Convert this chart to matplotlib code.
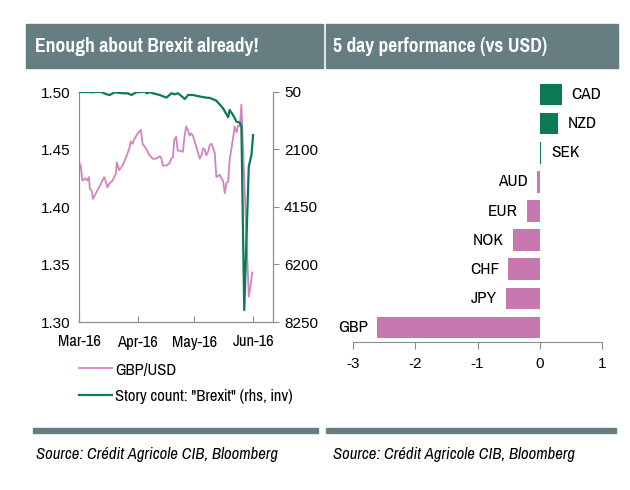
import matplotlib
matplotlib.use("Agg")
import matplotlib.pyplot as plt
from matplotlib.patches import Rectangle
from matplotlib.lines import Line2D

plt.rcParams['font.family'] = ['Pragati Narrow', 'Liberation Sans', 'DejaVu Sans']
plt.rcParams['axes.unicode_minus'] = False

# ---- left chart data (days since 1 Mar 2016)
gbp_days = [0, 0.9, 1.8, 3.5, 4.4, 5.3, 5.7, 6.7, 7.4, 8.9, 10.6, 12.4, 13.3, 14.2, 15.0,
            15.9, 17.7, 19.5, 20.0, 21.2, 23.0, 24.8, 26.6, 27.4, 28.3, 29.2, 31.0, 32.7,
            33.6, 35.4, 37.2, 38.9, 40.7, 42.5, 43.4, 44.3, 46.0, 47.8, 48.7, 49.6, 50.4,
            51.3, 52.2, 53.1, 54.9, 55.8, 56.6, 57.5, 58.4, 59.3, 60.2, 62.0, 63.8, 64.7,
            65.6, 66.4, 67.3, 68.2, 69.1, 70.0, 70.9, 71.7, 72.6, 73.5, 74.4, 75.2, 76.1,
            77.0, 77.9, 78.8, 79.6, 81.4, 82.3, 83.2, 84.1, 85.0, 85.8, 89.7, 90.6, 91.5]
gbp_usd = [1.439, 1.436, 1.423, 1.425, 1.423, 1.426, 1.416, 1.414, 1.407, 1.412, 1.417,
           1.423, 1.426, 1.422, 1.417, 1.420, 1.423, 1.429, 1.439, 1.432, 1.436, 1.443,
           1.451, 1.457, 1.455, 1.459, 1.464, 1.467, 1.455, 1.451, 1.445, 1.442, 1.442,
           1.444, 1.443, 1.436, 1.436, 1.438, 1.442, 1.443, 1.459, 1.461, 1.449, 1.449,
           1.448, 1.462, 1.470, 1.467, 1.462, 1.464, 1.462, 1.452, 1.442, 1.445, 1.451,
           1.450, 1.445, 1.448, 1.454, 1.455, 1.451, 1.447, 1.426, 1.427, 1.428, 1.425,
           1.423, 1.412, 1.421, 1.422, 1.441, 1.460, 1.470, 1.465, 1.471, 1.470, 1.489,
           1.322, 1.331, 1.343]

story_days = [0, 3.9, 7.4, 9.2, 11.8, 14.5, 16.2, 18.9, 23.3, 25.9, 27.7, 30.3, 32.9, 34.7,
              36.0, 37.4, 39.1, 42.6, 46.2, 48.8, 50.6, 52.3, 54.1, 55.9, 57.6, 60.2, 63.8,
              67.3, 69.1, 72.6, 76.1, 78.8, 79.6, 81.4, 83.2, 85.0, 85.8, 87.3, 89.7, 91.1,
              92.0]
story_count = [50, 50, 60, 50, 50, 130, 157, 60, 96, 96, 157, 60, 50, 40, 96, 50, 96, 157,
               250, 96, 132, 96, 193, 300, 157, 157, 210, 252, 260, 360, 630, 952, 692, 870,
               1108, 1143, 1287, 7822, 2713, 2296, 1583]

month_days = [0, 31, 61, 92]
month_labels = ['Mar-16', 'Apr-16', 'May-16', 'Jun-16']

# ---- right chart data
ccys = ['GBP', 'JPY', 'CHF', 'NOK', 'EUR', 'AUD', 'SEK', 'NZD', 'CAD']
perf = [-2.61, -0.55, -0.51, -0.43, -0.21, -0.05, 0.02, 0.29, 0.35]

pink = '#D184C0'
pink_bar = '#C678AF'
green = '#0B7A55'
band = '#667E82'
grey = '#8C8C8C'
fs = 13
num_font = ['Liberation Sans', 'DejaVu Sans']
num_fs = 11

fig = plt.figure(figsize=(6.3, 4.9), dpi=100)
W, H = 630, 490


def fig_rect(x0, y0, x1, y1, color):
    fig.patches.append(Rectangle((x0 / W, 1 - y1 / H), (x1 - x0) / W, (y1 - y0) / H,
                                 transform=fig.transFigure, color=color, zorder=0))


# header bands + titles
fig_rect(26, 24, 323, 68, band)
fig_rect(326, 24, 618, 68, band)
fig.text(35 / W, 1 - 46 / H, 'Enough about Brexit already!', color='white',
         fontsize=15.3, fontweight='bold', va='center', ha='left')
fig.text(333 / W, 1 - 46 / H, '5 day performance (vs USD)', color='white',
         fontsize=15.3, fontweight='bold', va='center', ha='left')

# bottom separators + sources
fig_rect(33, 428, 318, 433, band)
fig_rect(326, 428, 616, 433, band)
src = 'Source: Crédit Agricole CIB, Bloomberg'
fig.text(36 / W, 1 - 454 / H, src, fontsize=12, style='italic', va='center', ha='left',
         family=['Archivo Narrow', 'DejaVu Sans'])
fig.text(333 / W, 1 - 454 / H, src, fontsize=12, style='italic', va='center', ha='left',
         family=['Archivo Narrow', 'DejaVu Sans'])

# ---- left chart
ax = fig.add_axes([79 / W, 1 - 322 / H, (273 - 79) / W, (322 - 92) / H])
ax.plot(gbp_days, gbp_usd, color=pink, lw=1.3, zorder=2)
ax.set_xlim(0, 102.5)
ax.set_ylim(1.30, 1.50)
ax.set_yticks([1.30, 1.35, 1.40, 1.45, 1.50])
ax.set_yticklabels(['1.30', '1.35', '1.40', '1.45', '1.50'], family=num_font, fontsize=num_fs)
ax.set_xticks(month_days)
ax.set_xticklabels(month_labels)
ax.spines['top'].set_visible(False)
for s in ['left', 'bottom', 'right']:
    ax.spines[s].set_color(grey)
ax.tick_params(axis='y', length=0, pad=6)
ax.tick_params(axis='x', direction='in', length=4, color=grey, labelsize=fs, pad=9)

ax2 = ax.twinx()
ax2.plot(story_days, story_count, color=green, lw=1.6, zorder=3)
ax2.set_ylim(8250, 50)
ax2.set_yticks([50, 2100, 4150, 6200, 8250])
ax2.set_yticklabels(['50', '2100', '4150', '6200', '8250'], family=num_font, fontsize=num_fs)
ax2.spines['top'].set_visible(False)
for s in ['left', 'bottom', 'right']:
    ax2.spines[s].set_color(grey)
ax2.tick_params(axis='y', direction='out', length=4, color=grey, pad=4)

fig.legend(handles=[Line2D([], [], color=pink, lw=1.3), Line2D([], [], color=green, lw=1.6)],
           labels=['GBP/USD', 'Story count: "Brexit" (rhs, inv)'],
           loc='upper left', bbox_to_anchor=(79 / W, 1 - 362 / H), frameon=False,
           fontsize=fs, handlelength=1.85, handletextpad=0.15, labelspacing=0.6,
           borderaxespad=0, borderpad=0)

# ---- right chart
bx = fig.add_axes([353 / W, 1 - 342 / H, (602 - 353) / W, (342 - 80) / H])
colors = [green if v > 0 else pink_bar for v in perf]
bx.barh(range(len(ccys)), perf, height=0.74, color=colors)
bx.set_xlim(-3, 1)
bx.set_ylim(-0.5, 8.5)
bx.set_xticks([-3, -2, -1, 0, 1])
bx.set_xticklabels(['-3', '-2', '-1', '0', '1'], family=num_font, fontsize=num_fs)
bx.set_yticks([])
for s in ['top', 'left', 'right']:
    bx.spines[s].set_visible(False)
bx.spines['bottom'].set_color(grey)
bx.tick_params(axis='x', direction='out', length=5, color=grey, pad=6)
for i, (c, v) in enumerate(zip(ccys, perf)):
    if v > 0:
        bx.annotate(c, (v, i), xytext=(10, 0), textcoords='offset pixels',
                    ha='left', va='center', fontsize=13.5)
    else:
        bx.annotate(c, (v, i), xytext=(-9, 0), textcoords='offset pixels',
                    ha='right', va='center', fontsize=13.5)

fig.savefig('out.png', dpi=100)
